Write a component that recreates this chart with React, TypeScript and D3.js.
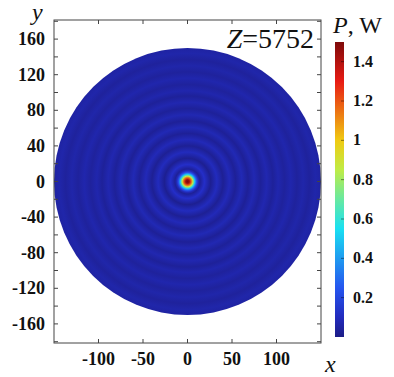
import React from "react";
import * as d3 from "d3";

// Radial power profile P(r) (r in x/y units, P in W)
const profileR = [0, 2, 4, 6, 8, 10, 12, 14, 19, 26, 33, 40, 47, 54, 61, 68, 75, 82, 89, 96, 102, 109, 116, 123, 130, 137, 144, 150];
const profileP = [1.5, 1.45, 1.2, 0.85, 0.5, 0.25, 0.1, 0.03, 0.12, 0.02, 0.1, 0.025, 0.09, 0.03, 0.085, 0.03, 0.08, 0.035, 0.075, 0.035, 0.07, 0.04, 0.07, 0.04, 0.065, 0.04, 0.065, 0.05];
const apertureRadius = 150;

const xTicks = [-100, -50, 0, 50, 100];
const yTicksMajor = [-160, -120, -80, -40, 0, 40, 80, 120, 160];
const yTicksMinor = [-180, -160, -140, -120, -100, -80, -60, -40, -20, 0, 20, 40, 60, 80, 100, 120, 140, 160, 180];
const cbTicks = [0.2, 0.4, 0.6, 0.8, 1, 1.2, 1.4];
const cbStops = [0, 0.1, 0.25, 0.4, 0.55, 0.7, 0.85, 1.0, 1.15, 1.3, 1.5];

const colorMapDomain = [0, 0.1875, 0.5625, 0.9375, 1.3125, 1.5];
const colorMapRange = ["#1c1c86", "#2838ee", "#18e6f2", "#f2ee12", "#e81414", "#7e0a0a"];

export default function App() {
  const W = 394, H = 377;
  const left = 54, right = 321, top = 20, bottom = 343;
  const x = d3.scaleLinear().domain([-150, 150]).range([left, right]);
  const halfY = ((bottom - top) / (right - left)) * 150;
  const y = d3.scaleLinear().domain([-halfY, halfY]).range([bottom, top]);
  const color = d3.scaleLinear<string>().domain(colorMapDomain).range(colorMapRange).interpolate(d3.interpolateRgb).clamp(true);
  const cb = d3.scaleLinear().domain([0, 1.5]).range([337, 42]);
  const cx = x(0), cy = y(0);
  const rPx = x(apertureRadius) - x(0);
  const serif = "'Liberation Serif', 'Times New Roman', 'DejaVu Serif', serif";
  const ts = { fontFamily: serif };
  const tickLen = 4;

  return (
    <svg width={W} height={H} style={{ position: "absolute", left: 0, top: 0 }}>
      <defs>
        <radialGradient id="beam" gradientUnits="userSpaceOnUse" cx={cx} cy={cy} r={rPx}>
          {profileR.map((r, i) => (
            <stop key={i} offset={r / apertureRadius} stopColor={color(profileP[i])} />
          ))}
        </radialGradient>
        <linearGradient id="cbar" x1="0" y1="1" x2="0" y2="0">
          {cbStops.map((v, i) => (
            <stop key={i} offset={v / 1.5} stopColor={color(v)} />
          ))}
        </linearGradient>
      </defs>
      <rect width={W} height={H} fill="#fff" />
      <circle cx={cx} cy={cy} r={rPx} fill="url(#beam)" />
      {/* frame */}
      <rect x={left} y={top} width={right - left} height={bottom - top} fill="none" stroke="#444" strokeWidth={1} />
      {xTicks.map((t) => (
        <g key={"x" + t}>
          <line x1={x(t)} x2={x(t)} y1={bottom} y2={bottom - tickLen} stroke="#444" />
          <line x1={x(t)} x2={x(t)} y1={top} y2={top + tickLen} stroke="#444" />
          <text x={x(t)} y={365} textAnchor="middle" fontSize={18} fontWeight="bold" fill="#111" style={ts}>{t}</text>
        </g>
      ))}
      {yTicksMinor.map((t) => (
        <g key={"ym" + t}>
          <line x1={left} x2={left + tickLen} y1={y(t)} y2={y(t)} stroke="#444" />
          <line x1={right} x2={right - tickLen} y1={y(t)} y2={y(t)} stroke="#444" />
        </g>
      ))}
      {yTicksMajor.map((t) => (
        <text key={"y" + t} x={45} y={y(t) + 6} textAnchor="end" fontSize={18} fontWeight="bold" fill="#111" style={ts}>{t}</text>
      ))}
      <text x={32} y={20} fontSize={24} fontStyle="italic" fill="#111" style={ts}>y</text>
      <text x={325} y={372} fontSize={24} fontStyle="italic" fill="#111" style={ts}>x</text>
      <text x={314} y={48} textAnchor="end" fontSize={28} fill="#111" style={ts}>
        <tspan fontStyle="italic">Z</tspan>=5752
      </text>
      {/* colorbar */}
      <rect x={335} y={cb(1.5)} width={9} height={cb(0) - cb(1.5)} fill="url(#cbar)" />
      {cbTicks.map((t) => (
        <g key={"c" + t}>
          <line x1={341} x2={344} y1={cb(t)} y2={cb(t)} stroke="rgba(0,0,0,0.45)" />
          <text x={353} y={cb(t) + 5} fontSize={16} fontWeight="bold" fill="#111" style={ts}>{t}</text>
        </g>
      ))}
      <text x={333} y={33} fontSize={24} fill="#111" style={ts}>
        <tspan fontStyle="italic">P</tspan>, W
      </text>
    </svg>
  );
}
